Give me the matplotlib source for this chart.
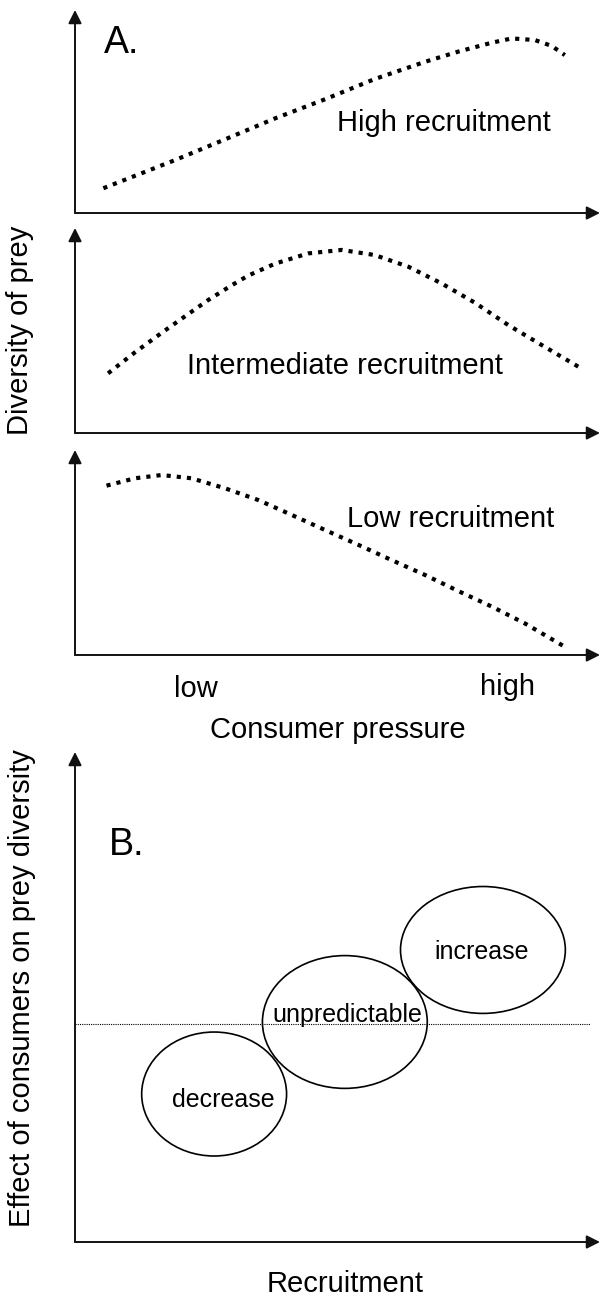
import matplotlib
matplotlib.use("Agg")
import matplotlib.pyplot as plt
from matplotlib.patches import Ellipse

plt.rcParams['font.family'] = ['Liberation Sans', 'DejaVu Sans']

# ---------------- data ----------------
# Panel A: consumer pressure (0-100) vs diversity of prey (0-100)
high_x = [5.4, 19.0, 28.6, 38.1, 47.6, 57.1, 66.7, 73.0, 79.4, 83.2, 87.6, 90.8, 93.3]
high_y = [12.2, 26.0, 36.3, 46.6, 56.0, 66.0, 74.5, 79.5, 83.9, 86.0, 85.2, 82.3, 77.8]

inter_x = [6.3, 11.4, 16.8, 21.0, 25.4, 29.8, 33.0, 38.1, 44.4, 50.8, 57.1, 63.5, 69.8, 76.2, 82.5, 88.9, 95.9]
inter_y = [29.1, 39.3, 49.4, 57.0, 64.9, 72.0, 76.8, 82.6, 87.6, 89.3, 86.8, 81.1, 73.0, 63.5, 52.7, 42.9, 32.3]

low_x = [6.0, 11.4, 16.5, 22.2, 28.6, 34.9, 41.3, 47.6, 54.0, 60.3, 66.7, 73.0, 79.4, 85.7, 93.3]
low_y = [82.6, 86.2, 87.8, 86.2, 81.3, 75.6, 68.3, 61.0, 53.7, 46.3, 39.0, 31.2, 23.6, 15.4, 4.0]

curve_labels = ["High recruitment", "Intermediate recruitment", "Low recruitment"]
curve_label_pos = [(49.9, 40.4), (21.3, 28.8), (51.8, 62.4)]

# Panel B: recruitment (0-100) vs effect of consumers (0-100)
ell_labels = ["decrease", "unpredictable", "increase"]
ell_cx = [26.5, 51.4, 77.7]
ell_cy = [30.2, 44.9, 59.6]
ell_w = [27.6, 31.4, 31.4]
ell_h = [25.3, 27.1, 25.9]
ell_text_x = [28.2, 51.8, 77.5]
ell_text_y = [27.6, 44.9, 57.8]
zero_line_y = 44.5

# ---------------- figure ----------------
W, H = 600, 1299
fig = plt.figure(figsize=(W / 100, H / 100), dpi=100)


def px_axes(left, top, right, bottom):
    return fig.add_axes([left / W, 1 - bottom / H, (right - left) / W, (bottom - top) / H])


def arrows(ax):
    ax.set_axis_off()
    kw = dict(arrowstyle='-|>', lw=1.4, color='#111111', mutation_scale=20,
              shrinkA=0, shrinkB=0)
    ax.annotate('', xy=(1, 0), xytext=(0, 0), xycoords='axes fraction',
                textcoords='axes fraction', arrowprops=kw, annotation_clip=False)
    ax.annotate('', xy=(0, 1), xytext=(0, 0), xycoords='axes fraction',
                textcoords='axes fraction', arrowprops=kw, annotation_clip=False)


dot_style = dict(color='black', lw=3.0, linestyle=(0, (1, 1.45)), dash_capstyle='butt',
                 solid_joinstyle='miter')

ax1 = px_axes(75, 10, 600, 213)
ax2 = px_axes(75, 228, 600, 433)
ax3 = px_axes(75, 450, 600, 655)
axB = px_axes(75, 752, 600, 1242)

series = [(high_x, high_y), (inter_x, inter_y), (low_x, low_y)]
for ax, (xs, ys), lab, (tx, ty) in zip([ax1, ax2, ax3], series, curve_labels, curve_label_pos):
    ax.set_xlim(0, 100)
    ax.set_ylim(0, 100)
    arrows(ax)
    ax.plot(xs, ys, **dot_style)
    ax.text(tx, ty, lab, fontsize=21, ha='left', va='baseline')

ax1.text(5.6, 79, "A.", fontsize=27, ha='left', va='baseline')

fig.text(20 / W, 1 - 330 / H, "Diversity of prey", rotation=90, fontsize=21,
         ha='center', va='center')
fig.text(196 / W, 1 - 697 / H, "low", fontsize=21, ha='center', va='baseline')
fig.text(508 / W, 1 - 695 / H, "high", fontsize=21, ha='center', va='baseline')
fig.text(338 / W, 1 - 738 / H, "Consumer pressure", fontsize=21, ha='center', va='baseline')

# Panel B
axB.set_xlim(0, 100)
axB.set_ylim(0, 100)
arrows(axB)
axB.plot([0, 98], [zero_line_y, zero_line_y], color='black', lw=0.8,
         linestyle=(0, (1, 1)))
for cx, cy, w, h in zip(ell_cx, ell_cy, ell_w, ell_h):
    axB.add_patch(Ellipse((cx, cy), w, h, fill=False, edgecolor='black', lw=1.2))
for lab, tx, ty in zip(ell_labels, ell_text_x, ell_text_y):
    axB.text(tx, ty, lab, fontsize=18, ha='center', va='baseline')
axB.text(6.5, 79, "B.", fontsize=27, ha='left', va='baseline')

fig.text(22 / W, 1 - 988 / H, "Effect of consumers on prey diversity", rotation=90,
         fontsize=21, ha='center', va='center')
fig.text(345 / W, 1 - 1292 / H, "Recruitment", fontsize=21, ha='center', va='baseline')

fig.savefig("out.png", dpi=100)
